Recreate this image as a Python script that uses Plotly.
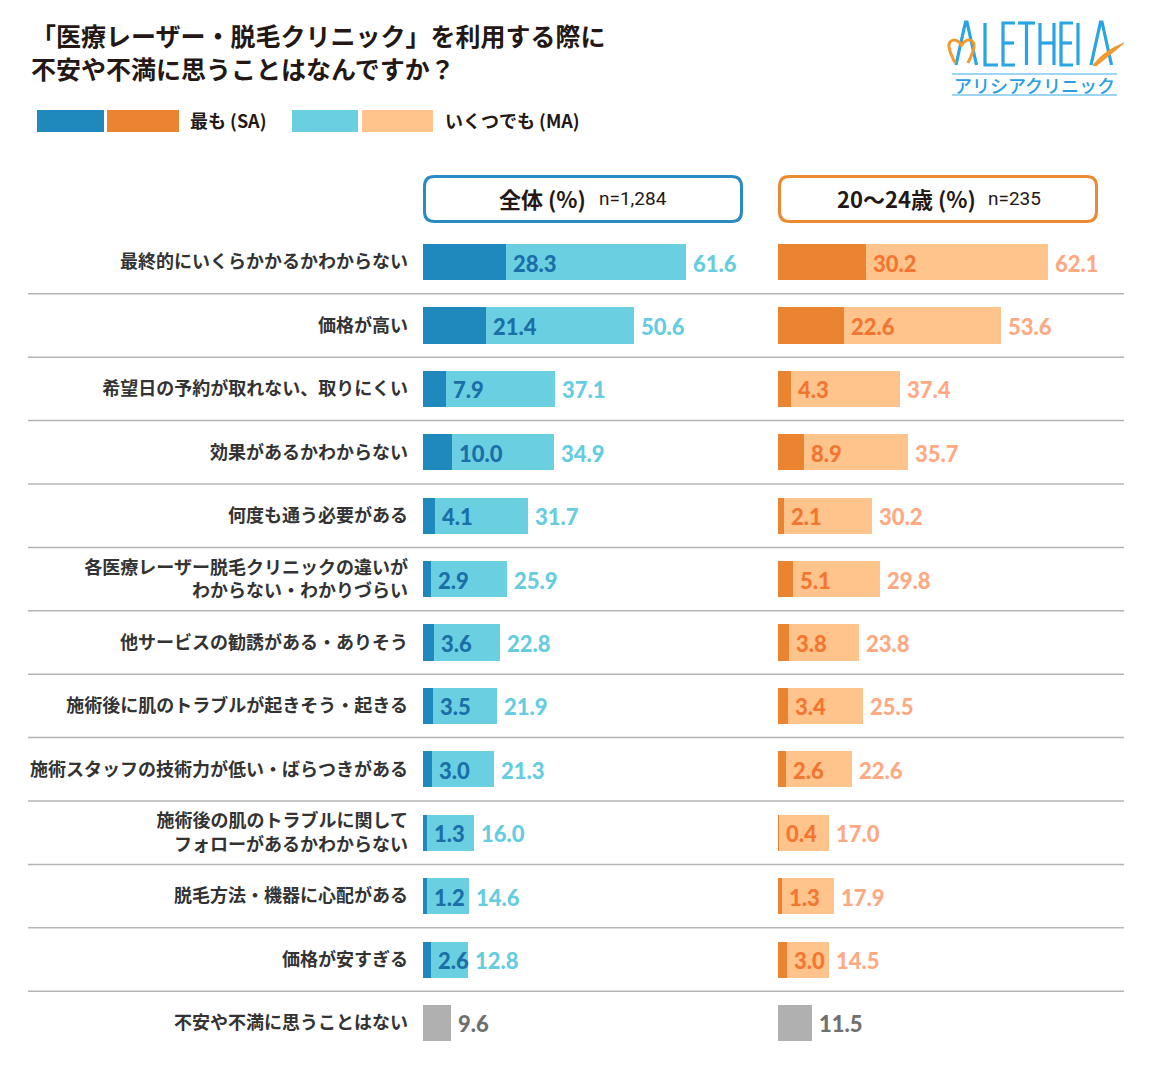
import plotly.graph_objects as go

W, H = 1152, 1072

categories = [
    "最終的にいくらかかるかわからない",
    "価格が高い",
    "希望日の予約が取れない、取りにくい",
    "効果があるかわからない",
    "何度も通う必要がある",
    "各医療レーザー脱毛クリニックの違いが<br>わからない・わかりづらい",
    "他サービスの勧誘がある・ありそう",
    "施術後に肌のトラブルが起きそう・起きる",
    "施術スタッフの技術力が低い・ばらつきがある",
    "施術後の肌のトラブルに関して<br>フォローがあるかわからない",
    "脱毛方法・機器に心配がある",
    "価格が安すぎる",
    "不安や不満に思うことはない",
]
sa_all = [28.3, 21.4, 7.9, 10.0, 4.1, 2.9, 3.6, 3.5, 3.0, 1.3, 1.2, 2.6, None]
ma_all = [61.6, 50.6, 37.1, 34.9, 31.7, 25.9, 22.8, 21.9, 21.3, 16.0, 14.6, 12.8, 9.6]
sa_young = [30.2, 22.6, 4.3, 8.9, 2.1, 5.1, 3.8, 3.4, 2.6, 0.4, 1.3, 3.0, None]
ma_young = [62.1, 53.6, 37.4, 35.7, 30.2, 29.8, 23.8, 25.5, 22.6, 17.0, 17.9, 14.5, 11.5]

title_line1 = "「医療レーザー・脱毛クリニック」を利用する際に"
title_line2 = "不安や不満に思うことはなんですか？"
legend_sa = "最も (SA)"
legend_ma = "いくつでも (MA)"
panel_titles = ["全体 (%)", "20〜24歳 (%)"]
panel_n = ["n=1,284", "n=235"]

DARK_BLUE = "#1f88bd"
LIGHT_BLUE = "#6acfe0"
DARK_OR = "#ea8430"
LIGHT_OR = "#ffc38c"
GRAY = "#b0b0b0"
SA_TXT_B = "#1a6fa8"
MA_TXT_B = "#66cde0"
SA_TXT_O = "#f37630"
MA_TXT_O = "#ffa983"
GRAY_TXT = "#707070"
TXT = "#231815"

JP = "Noto Sans CJK JP"
NUM = "Lato"


def px(x):
    return x / W


def py(y):
    return 1 - y / H


def path(points, close=True):
    s = "M " + " L ".join(f"{px(x):.5f},{py(y):.5f}" for x, y in points)
    return s + (" Z" if close else "")


def rrect(x0, y0, x1, y1, r):
    p = lambda x, y: f"{px(x):.5f},{py(y):.5f}"
    return (f"M {p(x0 + r, y0)} L {p(x1 - r, y0)} Q {p(x1, y0)} {p(x1, y0 + r)} "
            f"L {p(x1, y1 - r)} Q {p(x1, y1)} {p(x1 - r, y1)} L {p(x0 + r, y1)} "
            f"Q {p(x0, y1)} {p(x0, y1 - r)} L {p(x0, y0 + r)} Q {p(x0, y0)} {p(x0 + r, y0)} Z")


SCALE = 2.925  # px per percent
X1_0 = 423
X2_0 = 778
R1 = 110
R2 = 118

fig = go.Figure()

n = len(categories)
ma_col_b = [LIGHT_BLUE] * (n - 1) + [GRAY]
ma_col_o = [LIGHT_OR] * (n - 1) + [GRAY]
BW = 0.57

fig.add_trace(go.Bar(y=categories, x=sa_all, orientation="h", marker=dict(color=DARK_BLUE, line=dict(width=0)),
                     width=BW, xaxis="x", yaxis="y", hoverinfo="skip"))
fig.add_trace(go.Bar(y=categories, x=ma_all, orientation="h", marker=dict(color=ma_col_b, line=dict(width=0)),
                     width=BW, xaxis="x", yaxis="y", hoverinfo="skip"))
fig.add_trace(go.Bar(y=categories, x=sa_young, orientation="h", marker=dict(color=DARK_OR, line=dict(width=0)),
                     width=BW, xaxis="x2", yaxis="y", hoverinfo="skip"))
fig.add_trace(go.Bar(y=categories, x=ma_young, orientation="h", marker=dict(color=ma_col_o, line=dict(width=0)),
                     width=BW, xaxis="x2", yaxis="y", hoverinfo="skip"))

annotations = []
for xa, sa, ma, cs, cm in [("x", sa_all, ma_all, SA_TXT_B, MA_TXT_B), ("x2", sa_young, ma_young, SA_TXT_O, MA_TXT_O)]:
    for i, cat in enumerate(categories):
        base = sa[i] if sa[i] is not None else 0
        if sa[i] is not None:
            annotations.append(dict(x=sa[i], y=cat, xref=xa, yref="y", text=f"{sa[i]:.1f}", showarrow=False,
                                    xanchor="left", yanchor="middle", xshift=5, yshift=-1,
                                    font=dict(family=NUM, size=22, color=cs, weight=900)))
        col = cm if sa[i] is not None else GRAY_TXT
        annotations.append(dict(x=base + ma[i], y=cat, xref=xa, yref="y", text=f"{ma[i]:.1f}", showarrow=False,
                                xanchor="left", yanchor="middle", xshift=5, yshift=-1,
                                font=dict(family=NUM, size=22, color=col, weight=900)))

# title (two separate lines)
for yy, t in [(34.5, title_line1), (68, title_line2)]:
    annotations.append(dict(x=px(30), y=py(yy), xref="paper", yref="paper", xanchor="left", yanchor="middle",
                            text=t, showarrow=False, align="left", borderpad=0,
                            font=dict(family=JP, size=25, color=TXT, weight=700)))
# legend text
annotations.append(dict(x=px(188), y=py(120), xref="paper", yref="paper", xanchor="left", yanchor="middle",
                        text=legend_sa, showarrow=False, font=dict(family=JP, size=18, color=TXT, weight=700)))
annotations.append(dict(x=px(443), y=py(120), xref="paper", yref="paper", xanchor="left", yanchor="middle",
                        text=legend_ma, showarrow=False, font=dict(family=JP, size=18, color=TXT, weight=700)))
# panel headers
for (tx, nx), t, nn in zip([(588, 597), (978, 986)], panel_titles, panel_n):
    annotations.append(dict(x=px(tx), y=py(198), xref="paper", yref="paper", xanchor="right", yanchor="middle",
                            text=t, showarrow=False, font=dict(family=JP, size=22, color=TXT, weight=700)))
    annotations.append(dict(x=px(nx), y=py(199), xref="paper", yref="paper", xanchor="left", yanchor="middle",
                            text=nn, showarrow=False, font=dict(family="Roboto", size=19, color=TXT)))
# logo text
annotations.append(dict(x=px(1034), y=py(85), xref="paper", yref="paper", xanchor="center", yanchor="middle",
                        text="アリシアクリニック", showarrow=False,
                        font=dict(family=JP, size=18, color="#2a9fe0", weight=500)))

shapes = []
# legend swatches
for (x0, x1), c in zip([(37, 104), (107, 179), (292, 358), (362, 433)], [DARK_BLUE, DARK_OR, LIGHT_BLUE, LIGHT_OR]):
    shapes.append(dict(type="rect", xref="paper", yref="paper", x0=px(x0), x1=px(x1), y0=py(132), y1=py(110),
                       fillcolor=c, line=dict(width=0), layer="above"))
# header boxes
shapes.append(dict(type="path", xref="paper", yref="paper", path=rrect(424.5, 176.5, 741.5, 221.5, 10),
                   line=dict(color="#2a8bc3", width=3), fillcolor="rgba(0,0,0,0)"))
shapes.append(dict(type="path", xref="paper", yref="paper", path=rrect(779.5, 176.5, 1096.5, 221.5, 10),
                   line=dict(color="#ec8a33", width=3), fillcolor="rgba(0,0,0,0)"))
# separators between rows
for i in range(n - 1):
    shapes.append(dict(type="line", xref="paper", yref="y", x0=px(28), x1=px(1124), y0=i + 0.5, y1=i + 0.5,
                       line=dict(color="#b4b4b4", width=1.5), layer="below"))

# logo strokes
LB = "#29a4e4"
strokes = [
    [(956, 65), (965.5, 22), (967, 22), (976.5, 65)],  # A
    [(985, 23), (985, 65), (998, 65)],  # L
    [(1015, 23), (1003, 23), (1003, 65), (1015, 65)],  # E
    [(1003, 43), (1014, 43)],
    [(1018, 23), (1035, 23)],  # T
    [(1026.5, 23), (1026.5, 65)],
    [(1040, 23), (1040, 65)],  # H
    [(1054, 23), (1054, 65)],
    [(1040, 43), (1054, 43)],
    [(1073, 23), (1061, 23), (1061, 65), (1073, 65)],  # E
    [(1061, 43), (1072, 43)],
    [(1078, 23), (1078, 65)],  # I
    [(1091, 65), (1100.5, 22), (1102, 22), (1111.5, 65)],  # A
]
for s in strokes:
    shapes.append(dict(type="path", xref="paper", yref="paper", path=path(s, close=False),
                       line=dict(color=LB, width=3.2), fillcolor="rgba(0,0,0,0)"))
# heart (orange)
p = lambda x, y: f"{px(x):.5f},{py(y):.5f}"
heart = (f"M {p(961.5, 46)} C {p(958, 38)} {p(948, 38)} {p(949, 47)} C {p(950, 54)} {p(953, 58)} {p(955, 63)} "
         f"M {p(961.5, 46)} C {p(965, 38)} {p(975, 38)} {p(974, 47)} C {p(973, 54)} {p(970, 58)} {p(968, 63)}")
shapes.append(dict(type="path", xref="paper", yref="paper", path=heart,
                   line=dict(color="#f29a2e", width=3), fillcolor="rgba(0,0,0,0)"))
# swoosh
sw = f"M {p(1093, 65)} Q {p(1105, 50)} {p(1124, 43)} Q {p(1110, 55)} {p(1096, 66)} Z"
shapes.append(dict(type="path", xref="paper", yref="paper", path=sw, line=dict(color="#f29a2e", width=1),
                   fillcolor="#f29a2e"))
# logo rules
for yy in (74, 95):
    shapes.append(dict(type="line", xref="paper", yref="paper", x0=px(952), x1=px(1117), y0=py(yy), y1=py(yy),
                       line=dict(color="#7cc8ee", width=1.5)))

row_top = 262 - 31.7
row_bot = 1023 + 31.7

fig.update_layout(
    width=W, height=H, margin=dict(l=0, r=0, t=0, b=0),
    paper_bgcolor="white", plot_bgcolor="white",
    barmode="stack", showlegend=False,
    xaxis=dict(domain=[px(X1_0), px(X1_0 + R1 * SCALE)], range=[0, R1], visible=False, fixedrange=True),
    xaxis2=dict(domain=[px(X2_0), px(X2_0 + R2 * SCALE)], range=[0, R2], visible=False, fixedrange=True,
                anchor="y"),
    yaxis=dict(domain=[py(row_bot), py(row_top)], categoryorder="array", categoryarray=categories,
               range=[n - 0.5, -0.5], anchor="x", showgrid=False, zeroline=False, showline=False,
               ticks="", ticklabelstandoff=14,
               tickfont=dict(family=JP, size=18, color="#333333", weight=700)),
    annotations=annotations, shapes=shapes,
    font=dict(family=JP),
)

fig.write_html("out.html")
